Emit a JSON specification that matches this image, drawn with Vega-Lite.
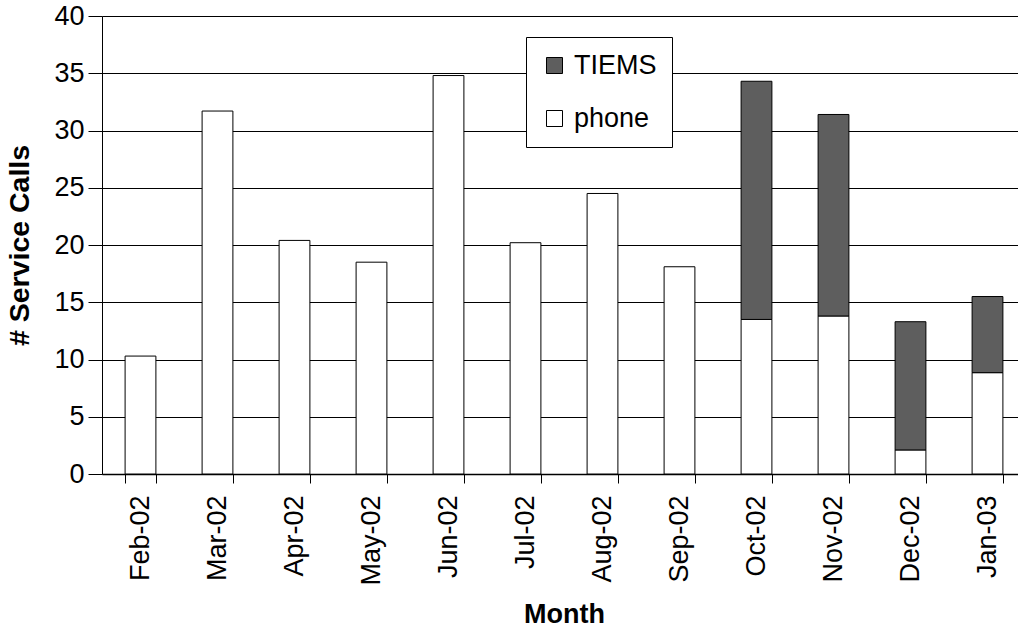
{
  "$schema": "https://vega.github.io/schema/vega-lite/v6.json",
  "width": 924,
  "height": 458,
  "autosize": {"type": "none"},
  "padding": {"left": 102, "top": 16, "right": -8, "bottom": 156},
  "background": "white",
  "config": {
    "view": {"stroke": null},
    "font": "Liberation Sans",
    "axis": {"labelFont": "Liberation Sans", "titleFont": "Liberation Sans", "labelColor": "black", "titleColor": "black", "domainColor": "black", "tickColor": "black", "gridColor": "black", "gridOpacity": 1}
  },
  "data": {
    "values": [
      {"month": "Feb-02", "type": "phone", "calls": 10.3},
      {"month": "Mar-02", "type": "phone", "calls": 31.7},
      {"month": "Apr-02", "type": "phone", "calls": 20.4},
      {"month": "May-02", "type": "phone", "calls": 18.5},
      {"month": "Jun-02", "type": "phone", "calls": 34.8},
      {"month": "Jul-02", "type": "phone", "calls": 20.2},
      {"month": "Aug-02", "type": "phone", "calls": 24.5},
      {"month": "Sep-02", "type": "phone", "calls": 18.1},
      {"month": "Oct-02", "type": "phone", "calls": 13.5},
      {"month": "Oct-02", "type": "TIEMS", "calls": 20.8},
      {"month": "Nov-02", "type": "phone", "calls": 13.8},
      {"month": "Nov-02", "type": "TIEMS", "calls": 17.6},
      {"month": "Dec-02", "type": "phone", "calls": 2.1},
      {"month": "Dec-02", "type": "TIEMS", "calls": 11.2},
      {"month": "Jan-03", "type": "phone", "calls": 8.85},
      {"month": "Jan-03", "type": "TIEMS", "calls": 6.65}
    ]
  },
  "mark": {"type": "bar", "stroke": "black", "strokeWidth": 1},
  "encoding": {
    "x": {
      "field": "month",
      "type": "nominal",
      "sort": ["Feb-02", "Mar-02", "Apr-02", "May-02", "Jun-02", "Jul-02", "Aug-02", "Sep-02", "Oct-02", "Nov-02", "Dec-02", "Jan-03"],
      "scale": {"paddingInner": 0.6, "paddingOuter": 0.3},
      "axis": {
        "title": "Month",
        "titleFontSize": 27,
        "titleFontWeight": "bold",
        "titlePadding": 16,
        "labelAngle": -90,
        "labelFontSize": 27,
        "labelPadding": 12,
        "tickBand": "extent",
        "tickSize": 9,
        "domainWidth": 1.5,
        "grid": false
      }
    },
    "y": {
      "field": "calls",
      "type": "quantitative",
      "stack": "zero",
      "scale": {"domain": [0, 40], "nice": false},
      "axis": {
        "title": "# Service Calls",
        "titleFontSize": 28.5,
        "titleFontWeight": "bold",
        "titlePadding": 19,
        "values": [0, 5, 10, 15, 20, 25, 30, 35, 40],
        "labelFontSize": 27,
        "labelPadding": 4,
        "tickSize": 14,
        "grid": true,
        "gridWidth": 1.2
      }
    },
    "color": {
      "field": "type",
      "type": "nominal",
      "scale": {"domain": ["TIEMS", "phone"], "range": ["#5e5e5e", "white"]},
      "legend": {
        "title": null,
        "orient": "none",
        "legendX": 424,
        "legendY": 21,
        "symbolType": "square",
        "symbolSize": 256,
        "symbolStrokeColor": "black",
        "symbolStrokeWidth": 1,
        "symbolOpacity": 1,
        "labelFont": "Liberation Sans",
        "labelFontSize": 27,
        "labelColor": "black",
        "labelOffset": 6,
        "rowPadding": 25,
        "padding": 15,
        "strokeColor": "black",
        "fillColor": "white"
      }
    },
    "order": {"field": "type", "sort": "descending"}
  }
}
